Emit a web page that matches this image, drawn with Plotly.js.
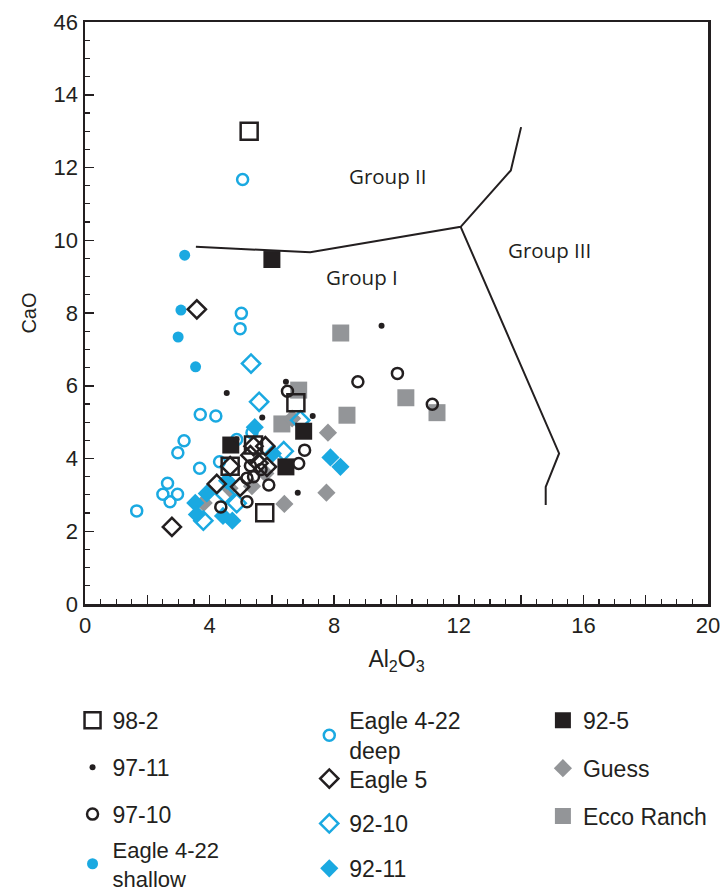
<!DOCTYPE html>
<html><head><meta charset="utf-8">
<script src="https://cdn.plot.ly/plotly-3.0.1.min.js"></script>
<style>html,body{margin:0;padding:0;background:#fff}</style>
</head><body><div id="chart" style="width:722px;height:892px"></div>
<script>
// ---- data (Al2O3 = x, CaO = y) ----
const x_98_2 = [5.27, 6.77, 5.41, 4.66, 5.77];
const y_98_2 = [13.0, 5.53, 4.37, 3.79, 2.51];
const x_97_11 = [9.52, 4.55, 6.45, 5.69, 7.31, 4.86, 6.83];
const y_97_11 = [7.65, 5.80, 6.11, 5.13, 5.17, 4.53, 3.06];
const x_97_10 = [10.03, 11.15, 8.76, 6.50, 7.05, 6.86, 5.20, 4.36, 5.90, 5.20, 5.41, 5.31, 5.65];
const y_97_10 = [6.34, 5.49, 6.11, 5.85, 4.23, 3.86, 2.81, 2.67, 3.27, 3.46, 3.50, 3.80, 3.70];
const x_shallow = [3.20, 3.08, 2.99, 3.55];
const y_shallow = [9.59, 8.08, 7.34, 6.52];
const x_deep = [5.06, 5.02, 4.98, 3.70, 4.20, 3.18, 2.98, 3.68, 4.32, 4.87, 5.36, 2.65, 2.50, 2.73, 2.97, 1.66];
const y_deep = [11.67, 7.99, 7.57, 5.21, 5.17, 4.49, 4.16, 3.73, 3.91, 4.52, 4.71, 3.32, 3.02, 2.81, 3.02, 2.56];
const x_eagle5 = [3.59, 2.79, 4.23, 4.66, 5.41, 5.79, 5.31, 5.57, 5.84, 4.98];
const y_eagle5 = [8.10, 2.12, 3.30, 3.79, 4.34, 4.34, 4.09, 3.87, 3.77, 3.22];
const x_92_10 = [5.33, 5.59, 6.38, 3.80, 4.50, 4.87, 6.91];
const y_92_10 = [6.61, 5.56, 4.20, 2.29, 3.02, 2.77, 5.05];
const x_92_11 = [5.45, 6.03, 7.88, 8.20, 4.56, 3.91, 3.54, 3.59, 4.43, 4.73];
const y_92_11 = [4.86, 4.14, 4.03, 3.77, 3.39, 3.04, 2.78, 2.46, 2.42, 2.29];
const x_92_5 = [6.00, 7.02, 4.68, 6.45];
const y_92_5 = [9.47, 4.75, 4.37, 3.77];
const x_guess = [6.65, 7.80, 7.75, 6.40, 5.79, 4.64, 3.81, 5.36];
const y_guess = [5.10, 4.71, 3.06, 2.75, 3.59, 3.18, 2.78, 3.24];
const x_ecco = [8.21, 10.30, 11.30, 6.86, 6.32, 8.41];
const y_ecco = [7.45, 5.67, 5.26, 5.88, 4.95, 5.19];

// field boundaries
const boundA_x = [3.56, 7.23, 12.06, 13.67, 14.0];
const boundA_y = [9.82, 9.67, 10.37, 11.92, 13.11];
const boundB_x = [12.06, 15.22, 14.79, 14.79];
const boundB_y = [10.37, 4.14, 3.22, 2.72];

const groupLabels = ["Group II", "Group I", "Group III"];
const groupX = [9.74, 8.9, 14.9];
const groupY = [11.78, 8.99, 9.73];

const xLabelVals = [0, 4, 8, 12, 16, 20];
const xMidTickVals = [2, 6, 10, 14, 18];
const yTickVals = [0, 2, 4, 6, 8, 10, 12, 14, 16];
const yTickText = ["0", "2", "4", "6", "8", "10", "12", "14", "46"];

// ---- styling ----
const INK = "#231f20", BLUE = "#1aa9e1", GRAY = "#939598";
const FONT = "Liberation Sans";
const LABELFONT = "Open Sans";

function pts(name, x, y, marker, legend, rank) {
  return {type: "scatter", mode: "markers", name: name, x: x, y: y,
    marker: marker, legend: legend, legendgroup: name, legendrank: rank,
    cliponaxis: false, hoverinfo: "x+y+name"};
}

const traces = [
  {type: "scatter", mode: "markers", x: [], y: [], xaxis: "x2", yaxis: "y", showlegend: false, hoverinfo: "skip"},
  {type: "scatter", mode: "lines", x: boundA_x, y: boundA_y, line: {color: INK, width: 2}, showlegend: false, hoverinfo: "skip"},
  {type: "scatter", mode: "lines", x: boundB_x, y: boundB_y, line: {color: INK, width: 2}, showlegend: false, hoverinfo: "skip"},
  pts("Ecco Ranch", x_ecco, y_ecco, {symbol: "square", size: 17, color: GRAY}, "legend3", 3),
  pts("Guess", x_guess, y_guess, {symbol: "diamond", size: 14, color: GRAY}, "legend3", 2),
  pts("92-11", x_92_11, y_92_11, {symbol: "diamond", size: 14, color: BLUE}, "legend2", 3),
  pts("92-10", x_92_10, y_92_10, {symbol: "diamond-open", size: 14, color: BLUE, line: {width: 2.5, color: BLUE}}, "legend2", 2),
  pts("Eagle 4-22<br>shallow", x_shallow, y_shallow, {symbol: "circle", size: 11, color: BLUE}, "legend4", 1),
  pts("Eagle 4-22<br>deep", x_deep, y_deep, {symbol: "circle-open", size: 11, color: BLUE, line: {width: 2.5, color: BLUE}}, "legend5", 1),
  pts("92-5", x_92_5, y_92_5, {symbol: "square", size: 17, color: INK}, "legend3", 1),
  pts("98-2", x_98_2, y_98_2, {symbol: "square-open", size: 17, color: INK, line: {width: 2.5, color: INK}}, "legend", 1),
  pts("Eagle 5", x_eagle5, y_eagle5, {symbol: "diamond-open", size: 14, color: INK, line: {width: 2.5, color: INK}}, "legend2", 1),
  pts("97-10", x_97_10, y_97_10, {symbol: "circle-open", size: 11, color: INK, line: {width: 2.5, color: INK}}, "legend", 3),
  pts("97-11", x_97_11, y_97_11, {symbol: "circle", size: 6, color: INK}, "legend", 2)
];

const legendBase = {
  orientation: "v", yanchor: "top", xanchor: "left",
  traceorder: "grouped", bgcolor: "rgba(0,0,0,0)",
  font: {family: FONT, size: 23, color: INK}, itemclick: false, itemdoubleclick: false
};

const layout = {
  width: 722, height: 892,
  margin: {l: 85, r: 14, t: 22, b: 288, autoexpand: false},
  paper_bgcolor: "#fff", plot_bgcolor: "#fff",
  font: {family: FONT, color: INK},
  showlegend: true,
  xaxis: {
    range: [0, 20], tickmode: "array", tickvals: xLabelVals,
    ticks: "inside", ticklen: 9, tickwidth: 1.5, tickcolor: INK,
    minor: {dtick: 0.5, tick0: 0, ticks: "inside", ticklen: 5, tickwidth: 1.2, tickcolor: INK, showgrid: false},
    showline: true, linecolor: INK, linewidth: 2.5, mirror: true,
    showgrid: false, zeroline: false, automargin: false,
    tickfont: {family: FONT, size: 22, color: INK},
    title: {text: "Al<sub>2</sub>O<sub>3</sub>", font: {family: FONT, size: 23, color: INK}, standoff: 14}
  },
  xaxis2: {
    overlaying: "x", anchor: "y", side: "bottom", range: [0, 20],
    tickmode: "array", tickvals: xMidTickVals, showticklabels: false,
    ticks: "inside", ticklen: 9, tickwidth: 1.5, tickcolor: INK,
    showline: false, showgrid: false, zeroline: false, automargin: false
  },
  yaxis: {
    range: [0, 16], tickmode: "array", tickvals: yTickVals, ticktext: yTickText,
    ticks: "inside", ticklen: 9, tickwidth: 1.5, tickcolor: INK,
    minor: {dtick: 0.5, tick0: 0, ticks: "inside", ticklen: 5, tickwidth: 1.2, tickcolor: INK, showgrid: false},
    showline: true, linecolor: INK, linewidth: 2.5, mirror: true,
    showgrid: false, zeroline: false, automargin: false,
    tickfont: {family: FONT, size: 22, color: INK},
    title: {text: "CaO", font: {family: FONT, size: 20, color: INK}, standoff: 12}
  },
  legend: Object.assign({}, legendBase, {x: -0.02, y: -0.163, tracegroupgap: 14}),
  legend4: Object.assign({}, legendBase, {x: -0.02, y: -0.386, tracegroupgap: 0, font: {family: FONT, size: 22, color: INK}}),
  legend5: Object.assign({}, legendBase, {x: 0.36, y: -0.163, tracegroupgap: 0}),
  legend2: Object.assign({}, legendBase, {x: 0.36, y: -0.263, tracegroupgap: 12}),
  legend3: Object.assign({}, legendBase, {x: 0.735, y: -0.163, tracegroupgap: 15}),
  annotations: groupLabels.map((t, i) => ({
    text: t, x: groupX[i], y: groupY[i], xref: "x", yref: "y", showarrow: false,
    font: {family: LABELFONT, size: 20.5, color: INK}
  }))
};

Plotly.newPlot("chart", traces, layout, {displayModeBar: false, staticPlot: true});
</script>
</body></html>
